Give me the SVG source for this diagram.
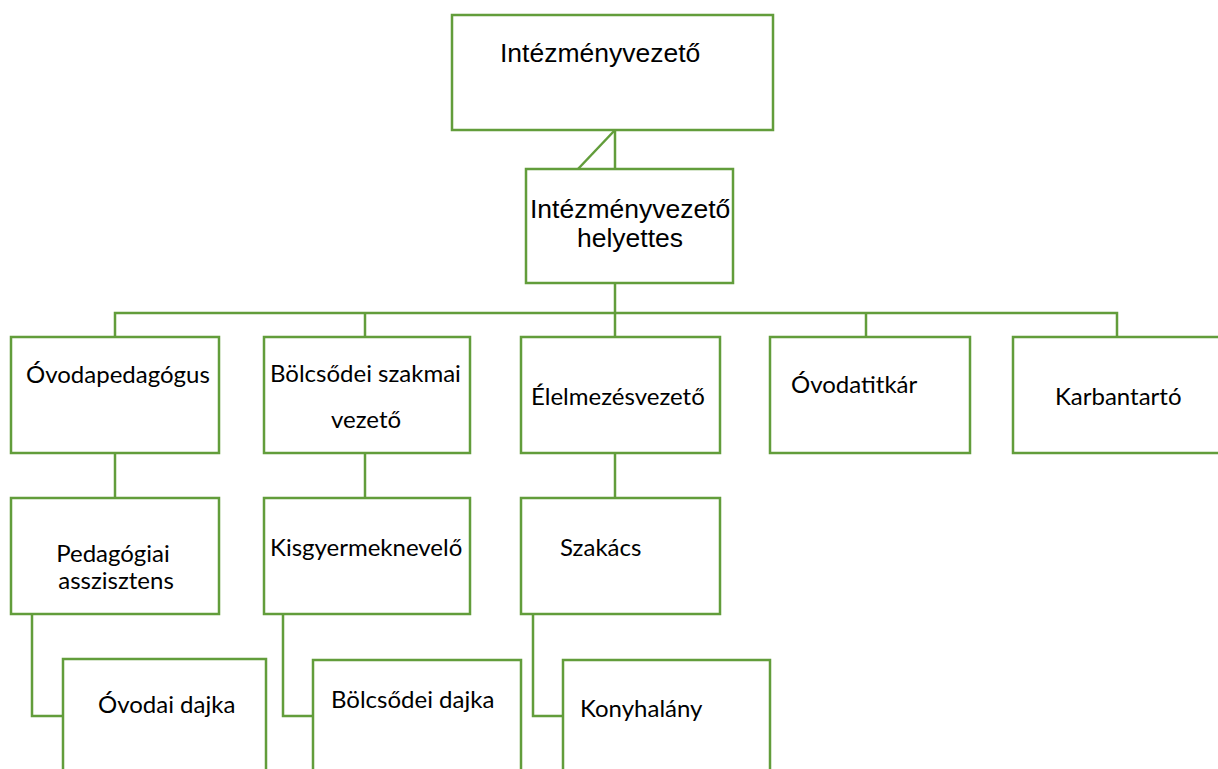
<svg xmlns="http://www.w3.org/2000/svg" width="1218" height="769" viewBox="0 0 1218 769">
<style>
.box{fill:#ffffff;stroke:#629D3B;stroke-width:2.5}
.ln{fill:none;stroke:#629D3B;stroke-width:2.5}
.a{font-family:"Liberation Sans",Arial,sans-serif;font-size:26.5px;fill:#000}
.c{font-family:Lato,"Open Sans",sans-serif;font-size:24px;fill:#000}
</style>
<rect width="1218" height="769" fill="#ffffff"/>
<g id="connectors">
<path class="ln" d="M615,130 L578,169"/>
<path class="ln" d="M615,130 V169"/>
<path class="ln" d="M615,283 V313"/>
<path class="ln" d="M115,337 V313 H1117 V337"/>
<path class="ln" d="M365,313 V337"/>
<path class="ln" d="M615,313 V337"/>
<path class="ln" d="M866,313 V337"/>
<path class="ln" d="M115,453 V498"/>
<path class="ln" d="M365,453 V498"/>
<path class="ln" d="M615,453 V498"/>
<path class="ln" d="M32,614 V716 H63"/>
<path class="ln" d="M283,614 V716 H313"/>
<path class="ln" d="M533,614 V716 H563"/>
</g>
<g id="n-intezmenyvezeto">
<rect class="box" x="452" y="15" width="321" height="115"/>
<text class="a" x="500" y="62">Intézményvezető</text>
</g>
<g id="n-helyettes">
<rect class="box" x="526" y="169" width="207" height="114"/>
<text class="a" x="530" y="218">Intézményvezető</text>
<text class="a" x="577" y="247">helyettes</text>
</g>
<g id="n-ovodapedagogus">
<rect class="box" x="11" y="337" width="208" height="116"/>
<text class="c" x="26" y="383">Óvodapedagógus</text>
</g>
<g id="n-bolcsodei-szakmai">
<rect class="box" x="264" y="337" width="206" height="116"/>
<text class="c" x="270" y="382">Bölcsődei szakmai</text>
<text class="c" x="366" y="428" text-anchor="middle">vezető</text>
</g>
<g id="n-elelmezesvezeto">
<rect class="box" x="521" y="337" width="199" height="116"/>
<text class="c" x="531" y="405">Élelmezésvezető</text>
</g>
<g id="n-ovodatitkar">
<rect class="box" x="770" y="337" width="200" height="116"/>
<text class="c" x="791" y="393">Óvodatitkár</text>
</g>
<g id="n-karbantarto">
<rect class="box" x="1013" y="337" width="220" height="116"/>
<text class="c" x="1055" y="405">Karbantartó</text>
</g>
<g id="n-pedagogiai">
<rect class="box" x="11" y="498" width="208" height="116"/>
<text class="c" x="113" y="562" text-anchor="middle">Pedagógiai</text>
<text class="c" x="116" y="589" text-anchor="middle">asszisztens</text>
</g>
<g id="n-kisgyermeknevelo">
<rect class="box" x="264" y="498" width="206" height="116"/>
<text class="c" x="270" y="556">Kisgyermeknevelő</text>
</g>
<g id="n-szakacs">
<rect class="box" x="521" y="498" width="199" height="116"/>
<text class="c" x="560" y="556">Szakács</text>
</g>
<g id="n-ovodai-dajka">
<rect class="box" x="63" y="659" width="203" height="140"/>
<text class="c" x="98" y="713">Óvodai dajka</text>
</g>
<g id="n-bolcsodei-dajka">
<rect class="box" x="313" y="660" width="208" height="140"/>
<text class="c" x="331" y="708">Bölcsődei dajka</text>
</g>
<g id="n-konyhalany">
<rect class="box" x="563" y="660" width="207" height="140"/>
<text class="c" x="580" y="717">Konyhalány</text>
</g>
</svg>
